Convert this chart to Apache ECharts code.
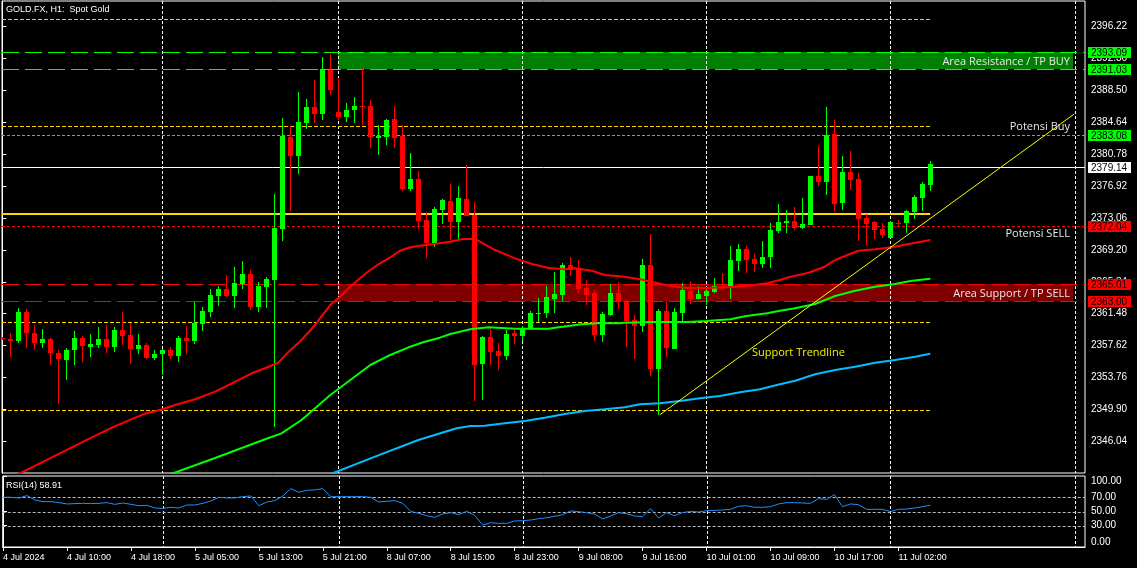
<!DOCTYPE html>
<html><head><meta charset="utf-8">
<script src="https://cdn.jsdelivr.net/npm/echarts@6/dist/echarts.min.js"></script>
<style>html,body{margin:0;padding:0;background:#000;}#c{width:1137px;height:568px;}</style>
</head><body><div id="c"></div>
<script>
// ---------------- DATA ----------------
const xLabels = ["4 Jul 2024","4 Jul 10:00","4 Jul 18:00","5 Jul 05:00","5 Jul 13:00","5 Jul 21:00","8 Jul 07:00","8 Jul 15:00","8 Jul 23:00","9 Jul 08:00","9 Jul 16:00","10 Jul 01:00","10 Jul 09:00","10 Jul 17:00","11 Jul 02:00"];
const xLabelBars = [0,8,16,24,32,40,48,56,64,72,80,88,96,104,112];
const vGridBars = [20,42,65,88,111,134.1];

const open = [2358.50,2358.43,2358.19,2361.69,2359.15,2357.98,2358.43,2356.78,2355.89,2357.10,
2358.55,2357.46,2357.70,2358.43,2357.46,2359.51,2358.91,2357.22,2357.70,2356.13,
2356.62,2357.10,2356.38,2358.55,2358.19,2360.24,2361.69,2363.62,2364.46,2363.62,
2365.07,2366.28,2362.29,2364.71,2365.55,2371.71,2382.82,2380.52,2384.51,2386.44,
2385.60,2390.91,2385.84,2385.23,2386.08,2386.52,2386.56,2382.70,2382.82,2384.99,
2382.94,2376.54,2377.75,2372.80,2370.02,2374.00,2375.09,2372.55,2375.33,2373.40,
2355.41,2358.67,2356.98,2356.38,2359.15,2358.79,2359.64,2361.49,2361.57,2363.26,
2363.74,2367.36,2367.00,2364.59,2363.98,2358.91,2361.33,2363.98,2362.97,2360.72,
2360.00,2367.36,2354.80,2361.81,2357.22,2361.57,2364.22,2363.26,2363.62,2364.10,
2364.83,2364.83,2367.85,2369.30,2368.09,2367.48,2368.33,2371.47,2372.43,2372.67,
2371.83,2372.19,2378.11,2377.38,2383.18,2374.85,2378.59,2377.75,2373.04,2372.55,
2371.71,2370.62,2372.47,2372.43,2373.76,2375.45,2377.02];
const high = [2358.70,2359.11,2362.17,2362.01,2360.12,2359.64,2358.51,2357.10,2357.34,2359.39,
2358.79,2359.03,2359.88,2360.12,2359.88,2361.69,2360.36,2359.03,2357.94,2357.10,
2357.26,2357.46,2358.79,2360.00,2362.90,2362.29,2364.46,2364.83,2366.15,2367.12,
2367.85,2366.76,2365.31,2365.91,2375.94,2385.11,2384.15,2388.25,2387.41,2389.70,
2392.48,2392.84,2389.94,2386.92,2387.65,2391.15,2387.29,2384.27,2384.99,2386.56,
2384.27,2380.89,2378.71,2373.76,2374.37,2375.33,2377.14,2376.90,2379.44,2374.97,
2358.79,2359.64,2357.94,2359.51,2359.51,2360.00,2361.81,2363.38,2364.83,2366.52,
2367.60,2368.33,2367.97,2365.55,2364.34,2361.69,2365.07,2365.31,2363.14,2361.33,
2368.09,2371.10,2362.05,2363.02,2362.17,2365.19,2365.43,2364.83,2364.71,2365.79,
2366.40,2369.66,2369.90,2369.66,2368.69,2370.26,2372.43,2374.73,2374.00,2374.37,
2375.45,2378.11,2381.73,2386.44,2384.87,2380.52,2381.13,2378.47,2373.52,2372.63,
2372.43,2372.67,2372.80,2374.00,2375.82,2377.38,2379.92];
const low = [2358.30,2356.29,2357.98,2357.38,2357.10,2357.38,2355.29,2350.58,2353.48,2355.29,
2355.65,2356.25,2357.34,2356.74,2356.86,2357.70,2355.41,2356.62,2356.01,2355.89,
2354.08,2356.01,2355.65,2356.62,2357.82,2359.39,2361.08,2362.41,2363.50,2362.17,
2364.46,2361.93,2361.69,2362.17,2347.84,2370.26,2373.88,2378.35,2383.78,2384.51,
2384.87,2387.89,2384.87,2384.63,2384.51,2384.27,2381.49,2380.64,2381.85,2381.49,
2376.30,2376.30,2371.71,2368.21,2369.54,2372.31,2370.14,2370.38,2373.28,2350.94,
2351.06,2355.29,2354.68,2355.89,2357.82,2358.19,2359.64,2360.48,2360.96,2361.57,
2363.02,2366.03,2363.98,2362.53,2358.19,2358.07,2361.21,2362.05,2357.46,2356.01,
2359.27,2353.96,2349.25,2356.25,2357.22,2360.60,2362.65,2363.26,2362.53,2363.98,
2364.50,2363.26,2366.64,2366.40,2366.52,2367.00,2367.00,2371.23,2371.23,2371.59,
2371.71,2372.19,2376.90,2375.82,2373.88,2374.00,2376.42,2370.26,2369.78,2370.50,
2370.62,2370.62,2371.95,2371.23,2372.92,2373.88,2376.30];
const close = [2358.40,2358.19,2361.69,2359.15,2357.98,2358.43,2356.78,2356.01,2357.10,2358.55,
2357.58,2357.82,2358.43,2357.46,2359.51,2358.79,2357.22,2357.70,2356.13,2356.62,
2357.10,2356.38,2358.55,2358.19,2360.36,2361.81,2363.74,2364.46,2363.62,2365.19,
2366.28,2362.29,2364.83,2365.67,2371.83,2382.94,2380.52,2384.63,2386.44,2385.60,
2390.99,2388.49,2385.23,2386.08,2386.56,2386.44,2382.82,2382.94,2384.87,2382.70,
2376.54,2377.75,2372.68,2370.02,2374.12,2375.21,2372.55,2375.45,2373.28,2355.29,
2358.67,2356.86,2356.38,2359.03,2358.79,2359.64,2361.57,2361.57,2363.50,2363.86,
2367.36,2366.76,2364.46,2363.74,2358.91,2361.45,2363.98,2362.90,2360.60,2360.00,
2367.36,2354.80,2361.81,2357.34,2361.69,2364.34,2363.26,2363.86,2364.22,2364.83,
2364.67,2367.97,2369.30,2367.97,2367.48,2368.33,2371.59,2372.55,2372.67,2371.83,
2372.31,2378.11,2377.38,2383.06,2374.73,2378.59,2377.63,2372.92,2372.31,2371.59,
2370.98,2372.55,2372.39,2373.88,2375.57,2377.14,2379.60];

// moving averages as [bar, price]
const maRed = [[0,2341.2],[3,2342.6],[6.5,2344.3],[10.5,2346.23],[13.5,2347.65],[16.4,2348.85],[18,2349.46],[19.7,2349.86],[21.6,2350.46],[24.1,2351.15],[26.6,2352.07],[29.1,2353.27],[31.2,2354.29],[33.3,2355.08],[34.5,2355.57],[35.6,2356.70],[37.4,2358.31],[39.1,2360.12],[39.7,2360.93],[41,2362.53],[42.2,2363.54],[43.5,2364.74],[44.7,2365.76],[46,2366.76],[47.2,2367.57],[48.5,2368.29],[49.7,2369.09],[51,2369.50],[52.2,2369.69],[53.9,2369.90],[56,2370.18],[57.6,2370.50],[59.1,2370.50],[59.7,2370.18],[61.6,2369.17],[64.1,2368.17],[66.2,2367.48],[68.3,2367.00],[70.3,2366.84],[71.6,2366.96],[73.7,2366.67],[75.3,2366.16],[77.8,2365.95],[79.7,2365.64],[81.4,2365.27],[83.5,2364.83],[85.6,2364.59],[88,2364.59],[90.6,2364.67],[93,2364.83],[95.6,2365.15],[97.2,2365.55],[98.3,2365.88],[100.8,2366.43],[102.8,2367.16],[104.1,2367.97],[107,2369.09],[109.1,2369.26],[111.2,2369.50],[113.3,2369.90],[116,2370.38]];
const maGreen = [[21,2342.1],[26.6,2344.06],[32.6,2346.23],[34.9,2347.04],[37.4,2348.65],[39.1,2350.06],[41,2351.67],[43.5,2353.48],[46,2355.29],[48.5,2356.50],[51,2357.50],[52.6,2358.03],[54.7,2358.59],[56,2359.03],[58.5,2359.60],[58.7,2359.84],[60.8,2359.84],[64.1,2359.67],[68.3,2359.67],[69.1,2359.79],[72.4,2360.20],[74.5,2360.32],[77,2360.32],[77.8,2360.40],[81.4,2360.48],[85.6,2360.48],[88,2360.60],[91,2360.81],[93,2361.21],[95.6,2361.53],[97.2,2361.85],[99.1,2362.14],[101.6,2362.65],[104.1,2363.62],[106.6,2364.26],[109.1,2364.74],[111.6,2365.07],[113.7,2365.47],[116,2365.71]];
const maBlue = [[41,2342.1],[46.5,2344.2],[52,2346.23],[56.8,2347.65],[58.5,2347.92],[60.3,2347.96],[62.8,2348.25],[65.3,2348.53],[67.8,2348.93],[70.3,2349.37],[72.8,2349.74],[75.3,2349.94],[77.8,2350.18],[79.7,2350.54],[82.2,2350.66],[84.7,2350.94],[87.2,2351.27],[89.7,2351.55],[92.2,2351.99],[94.7,2352.36],[97.2,2352.96],[99.1,2353.39],[101.6,2354.17],[104.1,2354.69],[106.6,2355.08],[109.1,2355.57],[111.6,2355.89],[114.1,2356.29],[116,2356.65]];

const rsi = [70,70,69,72.4,66.2,63.9,63.9,62.5,60.6,61.1,61.5,61.1,61.5,62.5,60.1,62,60.1,58.2,58.7,54.9,
54.5,55.9,54.9,59.2,59.2,61.5,64.8,70,69.1,69.1,70.9,71.9,58.2,63.4,65.3,71.9,82.2,77.1,79.9,80.4,
82.2,70.9,70.9,70.9,70.9,70.9,70,63.4,64.4,65.3,61.5,50.2,47.4,44.1,41.8,46.5,48.4,45.5,50.2,44.6,
30.9,34.2,33.3,33.3,36.6,37.1,38,39.9,41.3,43.2,45.5,50.7,49.8,48.4,46.5,39.4,43.7,48.4,46.9,43.7,
42.7,54,40.8,48.4,44.1,48.4,50.2,49.3,51.2,51.6,52.1,53.1,57.3,58.2,55.9,55.9,56.8,60.6,62.5,62.5,
62,61.5,68.1,67.2,73.8,56.8,60.6,59.6,53.1,53.1,53.1,49.8,53.1,53.5,54.9,56.8,58.91];

const priceTicks = [2346.04,2349.90,2353.76,2357.62,2361.48,2365.34,2369.20,2373.06,2376.92,2380.78,2384.64,2388.50,2392.36,2396.22];
const rsiTicks = [0,30,50,70,100];
const rsiLevels = [70,50,30];

const resistHigh = 2393.09, resistLow = 2391.03;
const potensiBuy = 2383.08, bidPrice = 2379.14, yellowMain = 2373.54, potensiSell = 2372.04;
const supportHigh = 2365.01, supportLow = 2363.00;
const yellowDashed = [2397.03, 2384.12, 2360.48, 2349.86];
const zoneStartBar = 42, zoneEndBar = 133.85;
const trendline = [[82.2, 2349.29],[134, 2385.6]];

const annText = ["Area Resistance / TP BUY","Potensi Buy","Potensi SELL","Area Support / TP SELL","Support Trendline"];
const annBar = [133.5,133.5,133.5,133.5,93.7];
const annPrice = [2391.87,2383.99,2371.11,2363.83,2356.70];

const tagPrices = [resistHigh, resistLow, potensiBuy, bidPrice, potensiSell, supportHigh, supportLow];
const tagKinds = [0,0,0,1,2,2,2];

// ---------------- CHART ----------------
const X_MIN = -0.0375, X_MAX = X_MIN + 1083/8;
const Y_MIN = 2342.25, Y_MAX = 2399.24;
const lastBar = close.length - 1;
const AXF = '"Liberation Sans", Arial, sans-serif';

const LSTY = [
  {c:'#00FF00', w:1, d:[17,6]},
  {c:'#00FF00', w:1, d:[3,2]},
  {c:'#FFFFFF', w:1, d:null},
  {c:'#FFD700', w:2, d:null},
  {c:'#FF0000', w:1, d:[3,2]},
  {c:'#FF0000', w:1, d:[17,6]},
  {c:'#FFD700', w:1, d:[4,2]},
  {c:'#BBBBBB', w:1, d:[3,2]}
];
const TAGC = ['#00FF00','#FFFFFF','#FF0000'];
const annColor = ['#E8E8E8','#E8E8E8','#E8E8E8','#E8E8E8','#F2F200'];
const annAlign = ['right','right','right','right','left'];

const levelData = [
  [X_MAX, resistHigh, 0],[X_MAX, resistLow, 0],[X_MAX, potensiBuy, 1],[X_MAX, bidPrice, 2],
  [lastBar, yellowMain, 3],[X_MAX, potensiSell, 4],[X_MAX, supportHigh, 5],[X_MAX, supportLow, 5]
].concat(yellowDashed.map(p => [lastBar, p, 6]));

const candleData = open.map((o,i)=>[i,o,high[i],low[i],close[i]]);

function levelRender(params, api){
  const end = api.value(0), price = api.value(1), s = LSTY[api.value(2)];
  const a = api.coord([X_MIN, price]), b = api.coord([end, price]);
  let y = Math.round(a[1]); if (s.w === 1) y += 0.5;
  return {type:'line', shape:{x1:a[0], y1:y, x2:b[0], y2:y}, style:{stroke:s.c, lineWidth:s.w, lineDash:s.d || null}};
}
function vgridRender(yMin, yMax){
  return function(params, api){
    const k = api.value(0);
    const a = api.coord([k, yMax]), b = api.coord([k, yMin]);
    const x = Math.round(a[0]) + 0.5;
    return {type:'line', shape:{x1:x, y1:a[1], x2:x, y2:b[1]}, style:{stroke:'#FFFFFF', lineWidth:1, lineDash:[3,2]}};
  };
}

const chart = echarts.init(document.getElementById('c'), null, {width:1137, height:568});
chart.setOption({
  backgroundColor:'#000000',
  animation:false,
  title:[
    {text:'GOLD.FX, H1:  Spot Gold', left:6, top:5, padding:0, textStyle:{color:'#FFFFFF', fontSize:9, fontWeight:'normal', fontFamily:AXF}},
    {text:'RSI(14) 58.91', left:6, top:481, padding:0, textStyle:{color:'#FFFFFF', fontSize:9, fontWeight:'normal', fontFamily:AXF}}
  ],
  grid:[
    {left:2, top:1, width:1083, height:472, show:true, borderColor:'#FFFFFF', borderWidth:1, backgroundColor:'transparent'},
    {left:2, top:476, width:1083, height:71, show:true, borderColor:'#FFFFFF', borderWidth:1, backgroundColor:'transparent'}
  ],
  xAxis:[
    {type:'value', gridIndex:0, min:X_MIN, max:X_MAX, show:false},
    {type:'value', gridIndex:1, min:X_MIN, max:X_MAX,
      axisLine:{show:true, lineStyle:{color:'#FFFFFF'}},
      axisTick:{show:true, customValues:xLabelBars, length:4, lineStyle:{color:'#FFFFFF'}},
      axisLabel:{show:true, customValues:xLabelBars, formatter:v => { const i = xLabelBars.indexOf(Math.round(v)); return i>=0 ? xLabels[i] : ''; },
        color:'#FFFFFF', fontSize:9, fontFamily:AXF, align:'left', margin:6},
      splitLine:{show:false}}
  ],
  yAxis:[
    {type:'value', gridIndex:0, position:'right', min:Y_MIN, max:Y_MAX, scale:true,
      axisLine:{show:true, lineStyle:{color:'#FFFFFF'}},
      axisTick:{show:true, customValues:priceTicks, length:4, lineStyle:{color:'#FFFFFF'}},
      axisLabel:{show:true, customValues:priceTicks, formatter:v => v.toFixed(2), color:'#FFFFFF', fontSize:10, fontFamily:AXF, margin:6},
      splitLine:{show:false}},
    {type:'value', gridIndex:1, position:'right', min:0, max:100,
      axisLine:{show:true, lineStyle:{color:'#FFFFFF'}},
      axisTick:{show:true, customValues:rsiTicks, length:4, lineStyle:{color:'#FFFFFF'}},
      axisLabel:{show:true, customValues:rsiTicks, formatter:v => v.toFixed(2), color:'#FFFFFF', fontSize:10, fontFamily:AXF, margin:6,
        verticalAlignMinLabel:'bottom', verticalAlignMaxLabel:'top'},
      splitLine:{show:false}}
  ],
  series:[
    {type:'custom', name:'zones', xAxisIndex:0, yAxisIndex:0, z:1, silent:true,
      data:[[zoneStartBar, resistHigh, zoneEndBar, resistLow, 0],[zoneStartBar, supportHigh, zoneEndBar, supportLow, 1]],
      renderItem:(params, api) => {
        const a = api.coord([api.value(0), api.value(1)]), b = api.coord([api.value(2), api.value(3)]);
        return {type:'rect', shape:{x:Math.round(a[0]), y:Math.round(a[1]), width:Math.round(b[0]-a[0]), height:Math.round(b[1]-a[1])},
          style:{fill: api.value(4) === 0 ? '#008000' : '#800000'}};
      }},
    {type:'custom', name:'vgrid', xAxisIndex:0, yAxisIndex:0, z:1, silent:true,
      data:vGridBars.map(k => [k, Y_MIN]), renderItem:vgridRender(Y_MIN, Y_MAX)},
    {type:'custom', name:'levels', xAxisIndex:0, yAxisIndex:0, z:2, silent:true,
      data:levelData, renderItem:levelRender},
    {type:'custom', name:'candles', xAxisIndex:0, yAxisIndex:0, z:3, silent:true, clip:true,
      data:candleData,
      renderItem:(params, api) => {
        const k = api.value(0), o = api.value(1), h = api.value(2), l = api.value(3), c = api.value(4);
        const po = api.coord([k,o]), pc = api.coord([k,c]), ph = api.coord([k,h]), pl = api.coord([k,l]);
        const col = c >= o ? '#00FF00' : '#FF0000';
        const cx = Math.round(po[0]);
        const top = Math.round(Math.min(po[1], pc[1])), bot = Math.round(Math.max(po[1], pc[1]));
        const yh = Math.round(ph[1]), yl = Math.round(pl[1]);
        return {type:'group', children:[
          {type:'rect', shape:{x:cx, y:yh, width:1, height:Math.max(1, yl - yh)}, style:{fill:col}},
          {type:'rect', shape:{x:cx-2, y:top, width:5, height:Math.max(1, bot - top)}, style:{fill:col}}
        ]};
      }},
    {type:'line', name:'MA red', xAxisIndex:0, yAxisIndex:0, z:4, symbol:'none', silent:true, data:maRed, lineStyle:{color:'#FF0000', width:2}},
    {type:'line', name:'MA green', xAxisIndex:0, yAxisIndex:0, z:4, symbol:'none', silent:true, data:maGreen, lineStyle:{color:'#00FF00', width:2}},
    {type:'line', name:'MA blue', xAxisIndex:0, yAxisIndex:0, z:4, symbol:'none', silent:true, data:maBlue, lineStyle:{color:'#00BFFF', width:2}},
    {type:'line', name:'trend', xAxisIndex:0, yAxisIndex:0, z:5, symbol:'none', silent:true, data:trendline, lineStyle:{color:'#FFFF00', width:1}},
    {type:'custom', name:'annotations', xAxisIndex:0, yAxisIndex:0, z:6, silent:true,
      data:annText.map((t,i) => [annBar[i], annPrice[i], i]),
      renderItem:(params, api) => {
        const i = api.value(2); const p = api.coord([api.value(0), api.value(1)]);
        return {type:'text', x:Math.round(p[0]), y:Math.round(p[1]), style:{text:annText[i], fill:annColor[i],
          font:'11px "Open Sans", sans-serif', align:annAlign[i], verticalAlign:'middle'}};
      }},
    {type:'custom', name:'tags', xAxisIndex:0, yAxisIndex:0, z:10, silent:true, clip:false,
      data:tagPrices.map((p,i) => [X_MAX, p, tagKinds[i]]),
      renderItem:(params, api) => {
        const price = api.value(1); const p = api.coord([api.value(0), price]);
        const y = Math.round(p[1]); const x = Math.round(p[0]);
        return {type:'group', children:[
          {type:'rect', shape:{x:x+3, y:y-5, width:43, height:11}, style:{fill:TAGC[api.value(2)]}},
          {type:'text', x:x+6, y:y+1, style:{text:price.toFixed(2), fill:'#000000', font:'10px ' + AXF, align:'left', verticalAlign:'middle'}}
        ]};
      }},
    {type:'custom', name:'vgrid2', xAxisIndex:1, yAxisIndex:1, z:1, silent:true,
      data:vGridBars.map(k => [k, 0]), renderItem:vgridRender(0, 100)},
    {type:'custom', name:'rsiLevels', xAxisIndex:1, yAxisIndex:1, z:2, silent:true,
      data:rsiLevels.map(v => [X_MAX, v, 7]), renderItem:levelRender},
    {type:'line', name:'RSI', xAxisIndex:1, yAxisIndex:1, z:4, symbol:'none', silent:true,
      data:rsi.map((v,i) => [i, v]), lineStyle:{color:'#1E90FF', width:1}}
  ]
});
</script>
</body></html>
